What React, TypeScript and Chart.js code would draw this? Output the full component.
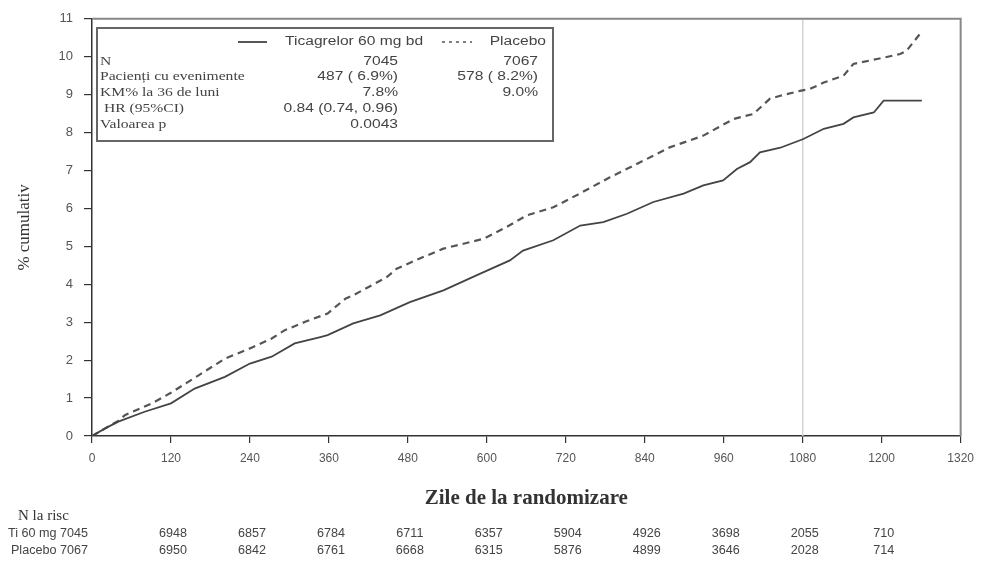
import React, { useEffect, useRef } from "react";
import { Chart, registerables } from "chart.js";

Chart.register(...registerables);

// ---------- data ----------
const tiDays = [0, 20, 40, 80, 120, 156, 202, 240, 273, 308, 347, 358, 397, 438, 483, 534, 585, 635, 655, 701, 742, 777, 813, 853, 899, 929, 959, 980, 1000, 1015, 1046, 1081, 1112, 1142, 1157, 1188, 1203, 1261];
const tiVals = [0, 0.2, 0.38, 0.64, 0.86, 1.25, 1.56, 1.91, 2.09, 2.44, 2.61, 2.66, 2.97, 3.18, 3.53, 3.84, 4.24, 4.63, 4.89, 5.16, 5.55, 5.64, 5.86, 6.17, 6.39, 6.61, 6.74, 7.04, 7.22, 7.48, 7.6, 7.83, 8.1, 8.23, 8.4, 8.53, 8.84, 8.84];

const plDays = [0, 20, 40, 50, 91, 120, 162, 202, 240, 273, 293, 324, 358, 385, 397, 448, 463, 498, 534, 574, 595, 630, 661, 701, 742, 787, 838, 878, 929, 975, 1005, 1030, 1046, 1076, 1091, 1112, 1142, 1157, 1193, 1228, 1238, 1258];
const plVals = [0, 0.2, 0.4, 0.55, 0.86, 1.14, 1.6, 2.04, 2.31, 2.57, 2.79, 3.01, 3.23, 3.62, 3.71, 4.19, 4.41, 4.68, 4.94, 5.11, 5.2, 5.51, 5.82, 6.03, 6.4, 6.82, 7.26, 7.61, 7.92, 8.36, 8.49, 8.89, 8.97, 9.1, 9.15, 9.32, 9.5, 9.81, 9.94, 10.07, 10.16, 10.6];

const seriesNames = ["Ticagrelor 60 mg bd", "Placebo"];
const refDay = 1080;

const statLabels = ["N", "Pacienți cu evenimente", "KM% la 36 de luni", " HR (95%CI)", "Valoarea p"];
const statTi = ["7045", "487 ( 6.9%)", "7.8%", "0.84 (0.74, 0.96)", "0.0043"];
const statPl = ["7067", "578 ( 8.2%)", "9.0%", "", ""];

const riskTitle = "N la risc";
const riskRowNames = ["Ti 60 mg", "Placebo"];
const riskDays = [0, 120, 240, 360, 480, 600, 720, 840, 960, 1080, 1200];
const riskTi = [7045, 6948, 6857, 6784, 6711, 6357, 5904, 4926, 3698, 2055, 710];
const riskPl = [7067, 6950, 6842, 6761, 6668, 6315, 5876, 4899, 3646, 2028, 714];

const xTitle = "Zile de la randomizare";
const yTitle = "% cumulativ";

// ---------- helpers ----------
const SANS = "'Liberation Sans', Arial, sans-serif";
const SERIF = "'Liberation Serif', 'Times New Roman', serif";
const TEXT = "#444";

function txt(ctx: CanvasRenderingContext2D, s: string, x: number, y: number, align: string, font: string, sx = 1, color = TEXT) {
  ctx.save();
  ctx.font = font;
  ctx.fillStyle = color;
  ctx.textBaseline = "middle";
  ctx.textAlign = "left";
  const w = ctx.measureText(s).width * sx;
  const left = align === "left" ? x : align === "right" ? x - w : x - w / 2;
  ctx.translate(left, y);
  ctx.scale(sx, 1);
  ctx.fillText(s, 0, 0);
  ctx.restore();
}

const decorPlugin = {
  id: "decor",
  beforeDatasetsDraw(chart: any) {
    const { ctx, chartArea: a, scales } = chart;
    const x = scales.x.getPixelForValue(refDay);
    ctx.save();
    ctx.strokeStyle = "#d4d4d4";
    ctx.lineWidth = 1.5;
    ctx.beginPath();
    ctx.moveTo(x, a.top);
    ctx.lineTo(x, a.bottom);
    ctx.stroke();
    ctx.strokeStyle = "#888";
    ctx.lineWidth = 2;
    ctx.beginPath();
    ctx.moveTo(a.left, a.top);
    ctx.lineTo(a.right, a.top);
    ctx.lineTo(a.right, a.bottom);
    ctx.stroke();
    ctx.restore();
  },
  afterDraw(chart: any) {
    const { ctx, scales } = chart;
    const ds = chart.data.datasets;
    const bx = 97, by = 28, bw = 456, bh = 113;
    ctx.save();
    ctx.fillStyle = "#fff";
    ctx.fillRect(bx, by, bw, bh);
    ctx.strokeStyle = "#666";
    ctx.lineWidth = 2;
    ctx.strokeRect(bx, by, bw, bh);
    const hy = 42;
    ctx.strokeStyle = ds[0].borderColor;
    ctx.lineWidth = ds[0].borderWidth;
    ctx.setLineDash([]);
    ctx.beginPath();
    ctx.moveTo(238, hy);
    ctx.lineTo(267, hy);
    ctx.stroke();
    ctx.strokeStyle = ds[1].borderColor;
    ctx.lineWidth = 1.6;
    ctx.setLineDash([3, 4]);
    ctx.beginPath();
    ctx.moveTo(442, hy);
    ctx.lineTo(472, hy);
    ctx.stroke();
    ctx.restore();
    const f12 = `12px ${SANS}`;
    const s12 = `12px ${SERIF}`;
    txt(ctx, seriesNames[0], 285, hy, "left", f12, 1.3);
    txt(ctx, seriesNames[1], 546, hy, "right", f12, 1.3);
    const rowsY = [62, 77, 93, 109, 125];
    statLabels.forEach((l, i) => {
      txt(ctx, l, 100, rowsY[i], "left", s12, 1.3);
      if (statTi[i]) txt(ctx, statTi[i], 398, rowsY[i], "right", f12, 1.3);
      if (statPl[i]) txt(ctx, statPl[i], 538, rowsY[i], "right", f12, 1.3);
    });

    txt(ctx, riskTitle, 18, 516, "left", `15px ${SERIF}`, 1, "#333");
    const rows = [riskTi, riskPl];
    const ys = [534, 551];
    rows.forEach((vals, r) => {
      vals.forEach((v, i) => {
        const px = scales.x.getPixelForValue(riskDays[i]);
        if (i === 0) {
          txt(ctx, `${riskRowNames[r]} ${v}`, px - 4, ys[r], "right", f12, 1.05);
        } else {
          txt(ctx, String(v), px + 2, ys[r], "center", f12, 1.05);
        }
      });
    });
  },
};

export default function App() {
  const ref = useRef<HTMLCanvasElement | null>(null);
  useEffect(() => {
    document.body.style.margin = "0";
    const canvas = ref.current!;
    const chart = new Chart(canvas, {
      type: "line",
      data: {
        datasets: [
          {
            label: seriesNames[0],
            data: tiDays.map((d, i) => ({ x: d, y: tiVals[i] })),
            borderColor: "#444",
            borderWidth: 1.8,
            pointRadius: 0,
            tension: 0,
          },
          {
            label: seriesNames[1],
            data: plDays.map((d, i) => ({ x: d, y: plVals[i] })),
            borderColor: "#555",
            borderWidth: 2.2,
            borderDash: [7, 5],
            pointRadius: 0,
            tension: 0,
          },
        ],
      },
      options: {
        animation: false,
        responsive: false,
        devicePixelRatio: 1,
        layout: { padding: { left: 0, top: 18, right: 21, bottom: 0 } },
        plugins: { legend: { display: false }, tooltip: { enabled: false } },
        scales: {
          x: {
            type: "linear",
            min: 0,
            max: 1320,
            afterFit: (s: any) => { s.height = 129; },
            ticks: { stepSize: 120, padding: 8, color: "#555", font: { family: SANS, size: 12 }, maxRotation: 0, callback: (v: any) => String(v) },
            grid: { display: true, drawOnChartArea: false, drawTicks: true, tickLength: 7, color: "#333", lineWidth: 1.2 },
            border: { display: true, color: "#333", width: 1.5 },
            title: { display: true, text: xTitle, color: "#333", font: { family: SERIF, size: 21, weight: "bold" }, padding: { top: 0, bottom: 54 } },
          },
          y: {
            min: 0,
            max: 11,
            afterFit: (s: any) => { s.width = 92; },
            ticks: { stepSize: 1, padding: 11, color: "#555", font: { family: SANS, size: 13 }, callback: (v: any) => String(v) },
            grid: { display: true, drawOnChartArea: false, drawTicks: true, tickLength: 8, color: "#333", lineWidth: 1.2 },
            border: { display: true, color: "#333", width: 1.5 },
            title: { display: true, text: yTitle, color: "#333", font: { family: SERIF, size: 17 }, padding: { top: 14, bottom: 0 } },
          },
        },
      },
      plugins: [decorPlugin],
    } as any);
    return () => chart.destroy();
  }, []);
  return (
    <div style={{ width: 982, height: 565, background: "#fff" }}>
      <canvas ref={ref} width={982} height={565} style={{ display: "block", width: 982, height: 565 }} />
    </div>
  );
}
